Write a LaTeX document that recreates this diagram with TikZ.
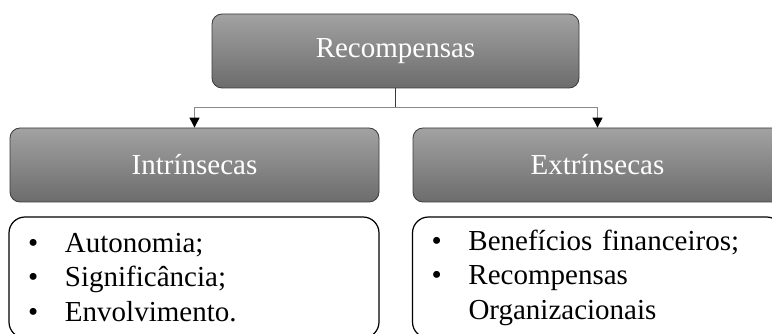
\documentclass[tikz,border=0pt]{standalone}
\usepackage{fontspec}
\setmainfont{Liberation Serif}
\usetikzlibrary{arrows.meta}

\definecolor{boxtop}{HTML}{A2A2A2}
\definecolor{boxbot}{HTML}{6C6C6C}
\definecolor{boxline}{HTML}{3A3A3A}
\definecolor{linkgray}{HTML}{8A8A8A}

\newcommand{\blt}{\makebox[37pt][l]{\textbullet}}
\newcommand{\nobl}{\hspace*{37pt}}

\begin{document}
\begin{tikzpicture}[x=1pt,y=-1pt,
    graybox/.style={rectangle, rounded corners=10pt, draw=boxline, line width=0.8pt,
      top color=boxtop, bottom color=boxbot, text=white,
      minimum height=74pt, font=\fontsize{29}{34}\selectfont},
    listbox/.style={rectangle, rounded corners=16pt, draw=black, line width=1.2pt,
      minimum width=370pt, minimum height=121pt, inner xsep=19pt,
      text width=332pt, align=left, font=\fontsize{29}{34.5}\selectfont},
    link/.style={draw=linkgray, line width=1pt, -{Triangle[length=10pt,width=10pt,color=black]}}]

  \useasboundingbox (0,0) rectangle (772,334);

  \begin{scope}[every node/.style={graybox}]
    \node[minimum width=367pt] (rec)  at (395.5,51) {Recompensas};
    \node[minimum width=369pt] (intr) at (194.5,165) {Intrínsecas};
    \node[minimum width=369pt] (extr) at (597.5,165) {Extrínsecas};
  \end{scope}

  \begin{scope}[every node/.style={listbox}]
    \node (intrlist) at (194,277.5) {\blt Autonomia;\\ \blt Significância;\\ \blt Envolvimento.};
    \node (extrlist) at (597.5,277.5) {\blt Benefícios financeiros;\\ \blt Recompensas\\ \nobl Organizacionais};
  \end{scope}

  \coordinate (split) at (395.5,108);
  \draw[boxline, line width=1pt] (rec) -- (split);
  \path[link] (split) -| (intr.north);
  \path[link] (split) -| (extr.north);

\end{tikzpicture}
\end{document}
